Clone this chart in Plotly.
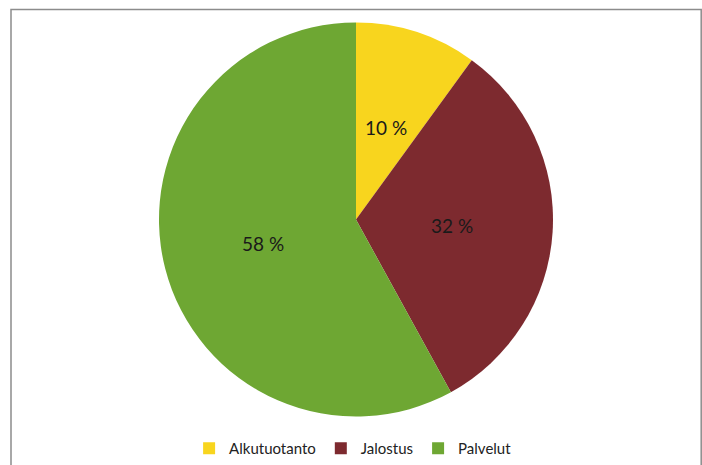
import math
import plotly.graph_objects as go

categories = ["Alkutuotanto", "Jalostus", "Palvelut"]
values = [10, 32, 58]
colors = ["#F8D51E", "#7D2A2F", "#6EA733"]

W, H = 702, 465
FONT = "Lato, Open Sans, Liberation Sans, sans-serif"

dom_x = [159 / W, 553 / W]
dom_y = [1 - 418 / H, 1 - 22 / H]

fig = go.Figure(go.Pie(
    labels=categories,
    values=values,
    sort=False,
    direction="clockwise",
    rotation=0,
    marker=dict(colors=colors, line=dict(width=0)),
    textinfo="none",
    hoverinfo="label+percent",
    domain=dict(x=dom_x, y=dom_y),
))

# data labels at the middle angle of each slice, about halfway out
cx = (dom_x[0] + dom_x[1]) / 2 * W
cy = (1 - (dom_y[0] + dom_y[1]) / 2) * H
radius = min((dom_x[1] - dom_x[0]) * W, (dom_y[1] - dom_y[0]) * H) / 2
total = sum(values)
cum = 0
for v in values:
    mid = (cum + v / 2) / total * 2 * math.pi
    cum += v
    px = cx + 0.49 * radius * math.sin(mid)
    py = cy - 0.49 * radius * math.cos(mid)
    fig.add_annotation(x=px / W, y=1 - py / H, xref="paper", yref="paper",
                       xanchor="center", yanchor="middle",
                       text=f"{v} %", showarrow=False,
                       font=dict(family=FONT, size=19, color="#1a1a1a"))

fig.add_shape(type="rect", xref="paper", yref="paper",
              x0=11 / W, x1=701.2 / W, y0=-0.05, y1=1 - 9.5 / H,
              line=dict(color="#8c8c8c", width=1.5), fillcolor="rgba(0,0,0,0)")

fig.update_layout(
    width=W, height=H,
    margin=dict(l=0, r=0, t=0, b=0),
    paper_bgcolor="white",
    plot_bgcolor="white",
    showlegend=True,
    legend=dict(orientation="h", x=0.503, xanchor="center", y=1 - 449 / H, yanchor="middle",
                font=dict(family=FONT, size=15, color="#222222"),
                itemwidth=30, traceorder="normal"),
    font=dict(family=FONT),
)

fig.write_html("out.html", config={"displayModeBar": False},
               post_script="document.body.style.margin='0px';")
